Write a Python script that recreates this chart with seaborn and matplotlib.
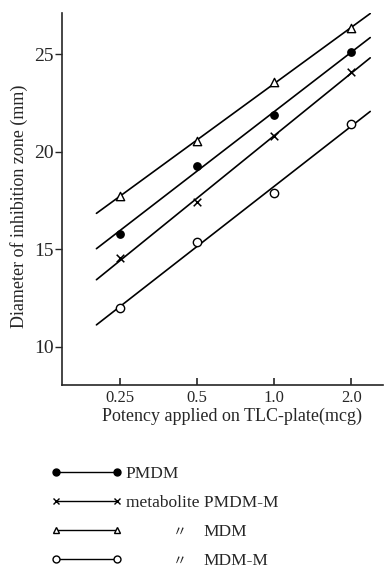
import numpy as np
import matplotlib
matplotlib.use("Agg")
import matplotlib.pyplot as plt
from matplotlib.lines import Line2D
from matplotlib.ticker import FixedLocator, FixedFormatter, NullLocator
import seaborn as sns

# --- data ---
doses = [0.25, 0.5, 1.0, 2.0]
dose_labels = ["0.25", "0.5", "1.0", "2.0"]

pmdm = [15.8, 19.28, 21.9, 25.1]
pmdm_m = [14.54, 17.4, 20.8, 24.1]
mdm = [17.7, 20.56, 23.56, 26.33]
mdm_m = [12.0, 15.36, 17.9, 21.44]

series_names = ["PMDM", "metabolite PMDM-M", "MDM", "MDM-M"]
series_values = [pmdm, pmdm_m, mdm, mdm_m]
series_markers = ["o", "x", "^", "o"]
series_faces = ["black", "black", "white", "white"]
series_sizes = [28, 30, 36, 36]

# range covered by the fitted lines (mcg)
fit_range = [0.203, 2.37]

sns.set_style("ticks")
plt.rcParams["font.family"] = ["Liberation Serif", "Noto Sans CJK JP"]

fig = plt.figure(figsize=(3.85, 5.7), dpi=100)
ax = fig.add_axes([0.161, 0.325, 0.834, 0.652])

log_doses = np.log2(doses)
x_fit = np.geomspace(fit_range[0], fit_range[1], 50)

for vals, m, fc, s in zip(series_values, series_markers, series_faces, series_sizes):
    slope, icpt = np.polyfit(log_doses, vals, 1)
    sns.lineplot(x=x_fit, y=icpt + slope * np.log2(x_fit), color="black",
                 lw=1.2, ax=ax)
    if m == "x":
        sns.scatterplot(x=doses, y=vals, marker=m, s=s, color="black",
                        linewidth=1.1, ax=ax, zorder=3)
    else:
        sns.scatterplot(x=doses, y=vals, marker=m, s=s, facecolor=fc,
                        edgecolor="black", linewidth=1.0, ax=ax, zorder=3)

ax.set_xscale("log", base=2)
ax.set_xlim(0.149, 2.66)
ax.set_ylim(8.05, 27.1)
ax.xaxis.set_major_locator(FixedLocator(doses))
ax.xaxis.set_major_formatter(FixedFormatter(dose_labels))
ax.xaxis.set_minor_locator(NullLocator())
ax.set_yticks([10, 15, 20, 25])

sns.despine(ax=ax)
for sp in ("left", "bottom"):
    ax.spines[sp].set_linewidth(1.2)
ax.tick_params(axis="x", direction="in", length=5, width=1.2, pad=4,
               labelsize=12)
ax.tick_params(axis="y", direction="out", length=5, width=1.0, pad=1,
               labelsize=14)

ax.set_xlabel("Potency applied on TLC-plate(mcg)", fontsize=13)
ax.set_ylabel("Diameter of inhibition zone (mm)", fontsize=13)
ax.xaxis.set_label_coords(0.53, -0.062)
ax.yaxis.set_label_coords(-0.105, 0.48)

# --- legend below the chart ---
handles = [Line2D([], [], color="black", lw=1.0, marker=m, ms=5,
                  mfc=fc, mec="black", mew=1.0)
           for m, fc in zip(series_markers, series_faces)]
leg = fig.legend(handles, [series_names[0], series_names[1], " ", " "],
                 loc="upper left", bbox_to_anchor=(0.132, 0.183),
                 frameon=False, fontsize=12.5, numpoints=2,
                 handlelength=4.1, handletextpad=0.22, labelspacing=0.74,
                 borderpad=0, borderaxespad=0)

# ditto rows: place text relative to the drawn legend
fig.canvas.draw()
renderer = fig.canvas.get_renderer()
to_fig = fig.transFigure.inverted()
ref_bb = leg.get_texts()[1].get_window_extent(renderer)
for i, name in zip([2, 3], series_names[2:]):
    bb = leg.get_texts()[i].get_window_extent(renderer)
    yc = (bb.y0 + bb.y1) / 2
    x_ditto, y_row = to_fig.transform((ref_bb.x0 + 54, yc))
    x_name, _ = to_fig.transform((ref_bb.x0 + 78, yc))
    fig.text(x_ditto, y_row, "〃", ha="center", va="center", fontsize=10)
    fig.text(x_name, y_row, name, ha="left", va="center", fontsize=12.5)

fig.savefig("out.png", dpi=100)
